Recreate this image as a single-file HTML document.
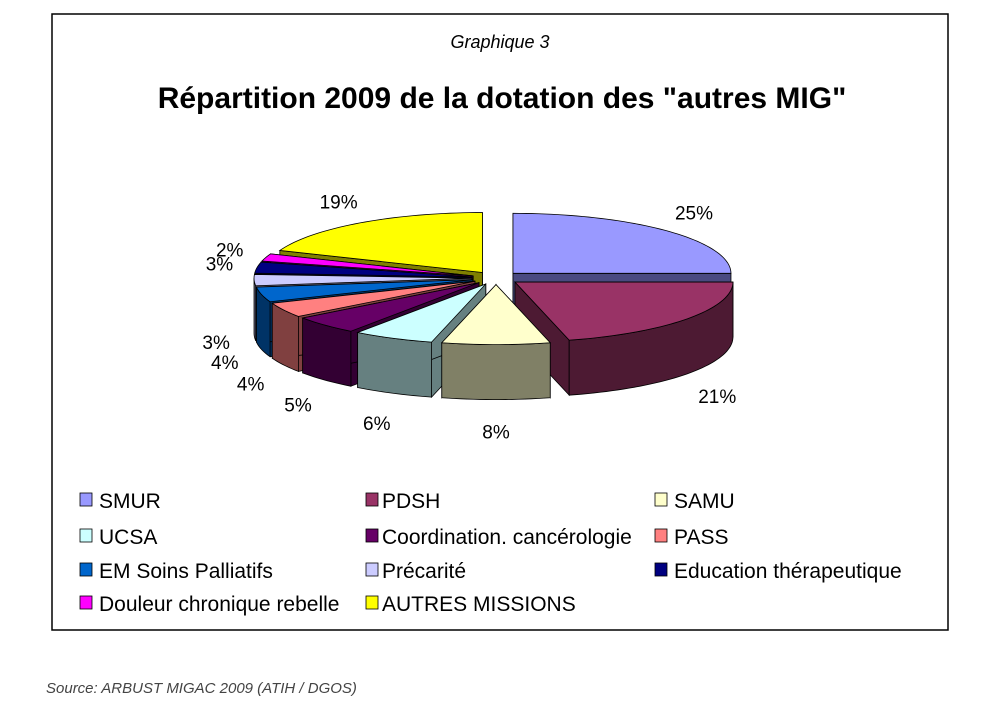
<!DOCTYPE html>
<html><head><meta charset="utf-8"><style>
body{margin:0;background:#fff;width:1002px;height:707px;overflow:hidden;font-family:"Liberation Sans",Arial,sans-serif}
</style></head><body>
<svg width="1002" height="707" viewBox="0 0 1002 707">
<rect x="52" y="14" width="896" height="616" fill="#fff" stroke="#000" stroke-width="1.5"/>
<text x="500" y="48" text-anchor="middle" font-size="18" font-style="italic">Graphique 3</text>
<text x="502" y="108" text-anchor="middle" font-size="30" font-weight="bold">Répartition 2009 de la dotation des "autres MIG"</text>
<g id="pie"></g>
<g id="legend"></g>
<text x="46" y="693" font-size="15" font-style="italic" fill="#444">Source: ARBUST MIGAC 2009 (ATIH / DGOS)</text>
</svg>
<script>
const categories=["SMUR","PDSH","SAMU","UCSA","Coordination. cancérologie","PASS","EM Soins Palliatifs","Précarité","Education thérapeutique","Douleur chronique rebelle","AUTRES MISSIONS"];
const values=[25,21,8,6,5,4,4,3,3,2,19];
const topColors=["#9999ff","#993366","#ffffcc","#ccffff","#660066","#ff8080","#0066cc","#ccccff","#000080","#ff00ff","#ffff00"];
const sideColors=["#4a4a80","#4d1a33","#808066","#668080","#330033","#804040","#003366","#666680","#000040","#800080","#808000"];
const NS="http://www.w3.org/2000/svg";
const cx=496,cy=278,rx=218,ry=60,depth=55,ex=24;
const pie=document.getElementById('pie');
const total=values.reduce((a,b)=>a+b,0);
function pt(a,ox,oy,dz){return [cx+ox+rx*Math.sin(a),cy+oy-ry*Math.cos(a)+dz];}
function mk(tag,attrs){const e=document.createElementNS(NS,tag);for(const k in attrs)e.setAttribute(k,attrs[k]);return e;}
let slices=[];let acc=0;
values.forEach((v,i)=>{const a1=acc/total*2*Math.PI;acc+=v;const a2=acc/total*2*Math.PI;const m=(a1+a2)/2;
 slices.push({i,a1,a2,m,ox:ex*Math.sin(m),oy:-ex*ry/rx*Math.cos(m)});});
const order=slices.slice().sort((a,b)=>(-Math.cos(a.m))-(-Math.cos(b.m)));
function arcPts(a1,a2,ox,oy,dz){const p=[];const n=Math.max(4,Math.ceil((a2-a1)/0.03));for(let k=0;k<=n;k++){p.push(pt(a1+(a2-a1)*k/n,ox,oy,dz));}return p;}
order.forEach(s=>{
 const g=mk('g',{});
 
 
 const c0=[cx+s.ox,cy+s.oy],c1=[cx+s.ox,cy+s.oy+depth];
 [s.a1,s.a2].forEach(a=>{const p=pt(a,s.ox,s.oy,0),q=pt(a,s.ox,s.oy,depth);
  g.appendChild(mk('polygon',{points:[c0,p,q,c1].map(x=>x.join(',')).join(' '),fill:sideColors[s.i],stroke:'#000','stroke-width':0.8}));});
 const lo=Math.max(s.a1,Math.PI/2),hi=Math.min(s.a2,1.5*Math.PI);
 if(hi>lo){const t=arcPts(lo,hi,s.ox,s.oy,0),b=arcPts(lo,hi,s.ox,s.oy,depth).reverse();
  g.appendChild(mk('polygon',{points:t.concat(b).map(x=>x.join(',')).join(' '),fill:sideColors[s.i],stroke:'#000','stroke-width':0.8}));}
 const tp=[c0].concat(arcPts(s.a1,s.a2,s.ox,s.oy,0));
 g.appendChild(mk('polygon',{points:tp.map(x=>x.join(',')).join(' '),fill:topColors[s.i],stroke:'#000','stroke-width':0.8}));
 pie.appendChild(g);
});
slices.forEach(s=>{const c=Math.cos(s.m),sn=Math.sin(s.m);
 const lx=cx+s.ox+(rx+38)*sn,ly=cy+s.oy-(ry+26)*c+(c<0?depth+6:0)+7;
 const t=mk('text',{x:lx,y:ly,'text-anchor':'middle','font-size':19});
 
 
 t.textContent=Math.round(values[s.i]/total*100)+'%';pie.appendChild(t);});
const lg=document.getElementById('legend');
const colX=[80,366,655],rowY=[501,537,571,604];
categories.forEach((c,i)=>{const x=colX[i%3],y=rowY[Math.floor(i/3)];
 const r=mk('rect',{x:x,y:y-8,width:12,height:13,fill:topColors[i],stroke:'#000','stroke-width':0.8});
 
 
 lg.appendChild(r);
 const t=mk('text',{x:x+(i%3==1?16:19),y:y+7,'font-size':21});
 
 
 t.textContent=c;lg.appendChild(t);});
</script>
</body></html>
